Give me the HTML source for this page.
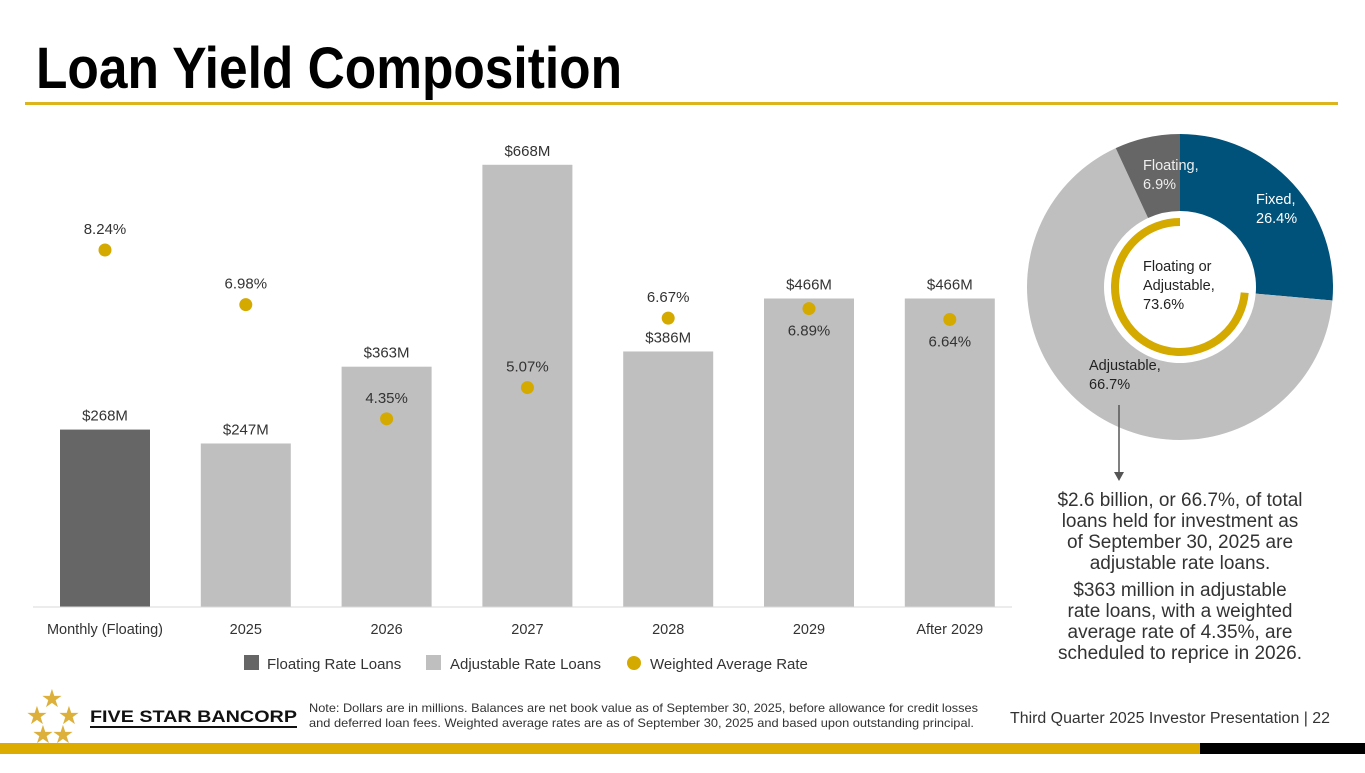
<!DOCTYPE html>
<html><head><meta charset="utf-8"><style>
body{margin:0;background:#fff;width:1365px;height:768px;overflow:hidden;font-family:"Liberation Sans",sans-serif}
svg text{font-family:"Liberation Sans",sans-serif}
</style></head><body>
<svg id="s" width="1365" height="768" viewBox="0 0 1365 768">
<text x="36" y="88" font-family="Liberation Sans Narrow, Liberation Sans, sans-serif" font-weight="bold" font-size="58" textLength="586" lengthAdjust="spacingAndGlyphs" fill="#000">Loan Yield Composition</text>
<rect x="25" y="102" width="1313" height="3" fill="#dcb41e"/>
<g id="chart"></g>
<line x1="33" y1="607" x2="1012" y2="607" stroke="#d9d9d9" stroke-width="1"/>
<g font-size="15" fill="#333">
<g><rect x="244" y="655" width="15" height="15" fill="#666"/><text x="267" y="669">Floating Rate Loans</text></g>
<g><rect x="426" y="655" width="15" height="15" fill="#bfbfbf"/><text x="450" y="669">Adjustable Rate Loans</text></g>
<g><circle cx="634" cy="663" r="7" fill="#d4a900"/><text x="650" y="669">Weighted Average Rate</text></g>
</g>
<g id="donut"></g>
<line x1="1119" y1="405" x2="1119" y2="476" stroke="#555" stroke-width="1.5"/>
<polygon points="1114,472 1124,472 1119,481" fill="#555"/>
<g font-size="19" fill="#333" text-anchor="middle">
<text x="1180" y="506">$2.6 billion, or 66.7%, of total</text>
<text x="1180" y="527">loans held for investment as</text>
<text x="1180" y="548">of September 30, 2025 are</text>
<text x="1180" y="569">adjustable rate loans.</text>
<text x="1180" y="596">$363 million in adjustable</text>
<text x="1180" y="617">rate loans, with a weighted</text>
<text x="1180" y="638">average rate of 4.35%, are</text>
<text x="1180" y="659">scheduled to reprice in 2026.</text>
</g>
<g fill="#dcb03a">
<text x="52" y="707" font-size="25" text-anchor="middle">★</text>
<text x="37" y="724" font-size="25" text-anchor="middle">★</text>
<text x="69" y="724" font-size="25" text-anchor="middle">★</text>
<text x="43" y="743" font-size="25" text-anchor="middle">★</text>
<text x="63" y="743" font-size="25" text-anchor="middle">★</text>
<text x="90" y="722" font-size="17" font-weight="bold" fill="#111" textLength="207" lengthAdjust="spacingAndGlyphs">FIVE STAR BANCORP</text>
<rect x="90" y="726" width="207" height="2" fill="#111"/>
</g>
<g font-size="12" fill="#333">
<text x="309" y="712" textLength="669" lengthAdjust="spacingAndGlyphs">Note: Dollars are in millions. Balances are net book value as of September 30, 2025, before allowance for credit losses</text>
<text x="309" y="727" textLength="665" lengthAdjust="spacingAndGlyphs">and deferred loan fees. Weighted average rates are as of September 30, 2025 and based upon outstanding principal.</text>
</g>
<text x="1010" y="723" font-size="15.5" fill="#333" textLength="320" lengthAdjust="spacingAndGlyphs">Third Quarter 2025 Investor Presentation |  22</text>
<rect x="0" y="743" width="1200" height="11" fill="#dcad00"/>
<rect x="1200" y="743" width="165" height="11" fill="#000"/>
</svg>
<script>
const categories=["Monthly (Floating)","2025","2026","2027","2028","2029","After 2029"];
const balances=[268,247,363,668,386,466,466];
const rates=[8.24,6.98,4.35,5.07,6.67,6.89,6.64];
const rateLabelBelow=[false,false,false,false,false,true,true];
const donutLabels=["Fixed","Adjustable","Floating"];
const donutValues=[26.4,66.7,6.9];
const NS="http://www.w3.org/2000/svg";
function mk(t,a,p){const e=document.createElementNS(NS,t);for(const k in a)e.setAttribute(k,a[k]);p.appendChild(e);return e;}
const x=i=>105+i*140.8;
const yB=v=>607-v*0.662;
const yR=r=>250+(8.24-r)*43.4;
const g=document.getElementById('chart');
categories.forEach((c,i)=>{
 const b=mk('rect',{x:x(i)-45,y:yB(balances[i]),width:90,height:607-yB(balances[i]),fill:i==0?'#666':'#bfbfbf'},g);
 
 
 const l=mk('text',{x:x(i),y:yB(balances[i])-9,'font-size':15,fill:'#333','text-anchor':'middle'},g);l.textContent='$'+balances[i]+'M';
 
 
 const t=mk('text',{x:x(i),y:634,'font-size':14.5,fill:'#333','text-anchor':'middle'},g);t.textContent=c;
 
 
 const d=mk('circle',{cx:x(i),cy:yR(rates[i]),r:6.5,fill:'#d4a900'},g);
 
 
 const rl=mk('text',{x:x(i),y:rateLabelBelow[i]?yR(rates[i])+27:yR(rates[i])-16,'font-size':15,fill:'#333','text-anchor':'middle'},g);rl.textContent=rates[i].toFixed(2)+'%';
 
 
});
const dg=document.getElementById('donut');
const cx=1180,cy=287,R=153,r0=76;
const cols=['#00527a','#bfbfbf','#666'];
const tot=donutValues.reduce((a,b)=>a+b,0);
let acc=0;
function pt(rad,f){const a=f*2*Math.PI-Math.PI/2;return [cx+rad*Math.cos(a),cy+rad*Math.sin(a)];}
donutValues.forEach((v,i)=>{
 const f0=acc/tot,f1=(acc+v)/tot;acc+=v;
 const [a1,b1]=pt(R,f0),[a2,b2]=pt(R,f1),[a3,b3]=pt(r0,f1),[a4,b4]=pt(r0,f0);
 const lg=(f1-f0)>0.5?1:0;
 const p=mk('path',{d:`M${a1} ${b1}A${R} ${R} 0 ${lg} 1 ${a2} ${b2}L${a3} ${b3}A${r0} ${r0} 0 ${lg} 0 ${a4} ${b4}Z`,fill:cols[i]},dg);
 
 
});
const gf0=donutValues[0]/tot;
const [g1,h1]=pt(65,gf0),[g2,h2]=pt(65,1);
const ring=mk('path',{d:`M${g1} ${h1}A65 65 0 1 1 ${g2} ${h2}`,fill:'none',stroke:'#d4a900','stroke-width':8},dg);


const labs=[[1256,204,'#fff',['Fixed,',donutValues[0]+'%']],[1089,370,'#222',['Adjustable,',donutValues[1]+'%']],[1143,170,'#eee',['Floating,',donutValues[2]+'%']],[1143,271,'#222',['Floating or','Adjustable,',(donutValues[1]+donutValues[2]).toFixed(1)+'%']]];
labs.forEach((L,i)=>{L[3].forEach((s,j)=>{const t=mk('text',{x:L[0],y:L[1]+j*19,'font-size':14.5,fill:L[2]},dg);t.textContent=s;
 
 });});
</script>
</body></html>
